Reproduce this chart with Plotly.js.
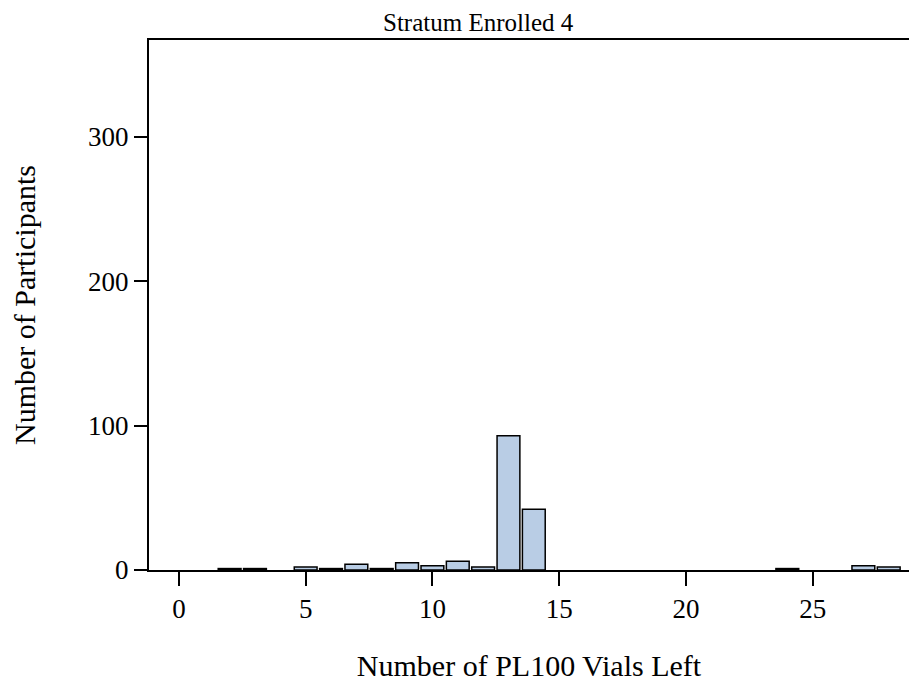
<!DOCTYPE html>
<html>
<head>
<meta charset="utf-8">
<script src="https://cdn.plot.ly/plotly-3.0.1.min.js"></script>
<style>html,body{margin:0;padding:0;background:#fff;}#chart{width:909px;height:683px;}</style>
</head>
<body>
<div id="chart"></div>
<script>
const vialsLeft = [2, 3, 5, 6, 7, 8, 9, 10, 11, 12, 13, 14, 24, 27, 28];
const participants = [1, 1, 2, 1, 4, 1, 5, 3, 6, 2, 93, 42, 1, 3, 2];
const xTicks = [0, 5, 10, 15, 20, 25];
const yTicks = [0, 100, 200, 300];

const font = "Liberation Serif, Times New Roman, serif";
Plotly.newPlot('chart', [{
  type: 'bar',
  x: vialsLeft,
  y: participants,
  width: 0.9,
  marker: {color: '#B9CDE5', line: {color: '#000', width: 1.5}},
  hoverinfo: 'x+y'
}], {
  width: 909, height: 683,
  margin: {l: 149, r: 0, t: 40, b: 113},
  paper_bgcolor: '#fff', plot_bgcolor: '#fff',
  showlegend: false,
  title: {text: 'Stratum Enrolled 4', font: {family: font, size: 25, color: '#000'}, x: 0.526, xanchor: 'center', y: 0.968, yanchor: 'middle'},
  xaxis: {
    range: [-1.18, 28.8],
    tickvals: xTicks, ticktext: xTicks.map(String),
    ticks: 'outside', ticklen: 14, tickwidth: 2, tickcolor: '#000',
    showline: true, linewidth: 2, linecolor: '#000', mirror: true,
    showgrid: false, zeroline: false,
    tickfont: {family: font, size: 27, color: '#000'},
    title: {text: 'Number of PL100 Vials Left', font: {family: font, size: 30, color: '#000'}, standoff: 32}
  },
  yaxis: {
    range: [0, 367],
    tickvals: yTicks, ticktext: yTicks.map(String),
    ticks: 'outside', ticklen: 13, tickwidth: 2, tickcolor: '#000',
    showline: true, linewidth: 2, linecolor: '#000',
    showgrid: false, zeroline: false,
    tickfont: {family: font, size: 27, color: '#000'},
    title: {text: 'Number of Participants', font: {family: font, size: 30, color: '#000'}, standoff: 44}
  }
}, {displayModeBar: false, staticPlot: true});
</script>
</body>
</html>
